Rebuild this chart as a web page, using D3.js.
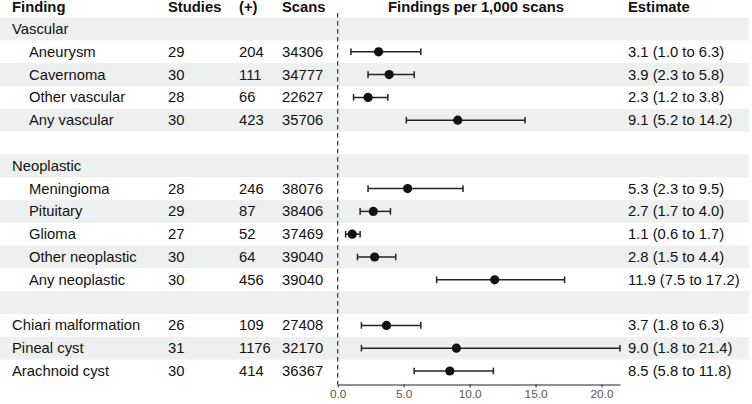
<!DOCTYPE html>
<html><head><meta charset="utf-8">
<script src="https://cdn.jsdelivr.net/npm/d3@7"></script>
<style>
html,body{margin:0;padding:0;background:#fff;}
svg{display:block;font-family:"Liberation Sans",Arial,Helvetica,sans-serif;}
</style></head>
<body>
<svg id="chart" width="752" height="404"></svg>
<script>
const findings = ["Vascular","Aneurysm","Cavernoma","Other vascular","Any vascular","","Neoplastic","Meningioma","Pituitary","Glioma","Other neoplastic","Any neoplastic","","Chiari malformation","Pineal cyst","Arachnoid cyst"];
const indented = [false,true,true,true,true,false,false,true,true,true,true,true,false,false,false,false];
const studies =   [null,29,30,28,30,null,null,28,29,27,30,30,null,26,31,30];
const positives = [null,204,111,66,423,null,null,246,87,52,64,456,null,109,1176,414];
const scans =     [null,34306,34777,22627,35706,null,null,38076,38406,37469,39040,39040,null,27408,32170,36367];
const estimate =  [null,3.1,3.9,2.3,9.1,null,null,5.3,2.7,1.1,2.8,11.9,null,3.7,9.0,8.5];
const lower =     [null,1.0,2.3,1.2,5.2,null,null,2.3,1.7,0.6,1.5,7.5,null,1.8,1.8,5.8];
const upper =     [null,6.3,5.8,3.8,14.2,null,null,9.5,4.0,1.7,4.4,17.2,null,6.3,21.4,11.8];
const tickValues = [0,5,10,15,20];
const headers = ["Finding","Studies","(+)","Scans","Findings per 1,000 scans","Estimate"];

const svg = d3.select("#chart");
const idx = d3.range(findings.length);
const y = d3.scaleBand().domain(idx).range([17.6, 382.4]).paddingInner(0).paddingOuter(0);
const x = d3.scaleLinear().domain([0, 21.4]).range([337.7, 620]);
const fs = 14.8;
const txt = "#111";

// bands
svg.append("g").selectAll("rect").data(idx.filter(i => i % 2 === 0)).join("rect")
  .attr("x", 0).attr("width", 749)
  .attr("y", i => y(i)).attr("height", y.bandwidth())
  .attr("fill", "#eef0f0");

// headers
const hx = [12, 168, 239, 282, 476, 628];
svg.append("g").selectAll("text").data(headers).join("text")
  .attr("x", (d, i) => hx[i]).attr("y", 12)
  .attr("text-anchor", (d, i) => i === 4 ? "middle" : "start")
  .attr("font-weight", "bold").attr("font-size", fs).attr("fill", txt)
  .text(d => d);

const cy = i => y(i) + y.bandwidth() / 2;
const rows = svg.append("g").selectAll("g").data(idx).join("g");
rows.append("text").attr("x", i => indented[i] ? 29 : 12).attr("y", i => cy(i) + 5)
  .attr("font-size", fs).attr("fill", txt).text(i => findings[i]);
const cols = [[studies,168],[positives,239],[scans,282]];
cols.forEach(([arr, cx]) => {
  rows.filter(i => arr[i] != null).append("text").attr("x", cx).attr("y", i => cy(i) + 5)
    .attr("font-size", fs).attr("fill", txt).text(i => arr[i]);
});
rows.filter(i => estimate[i] != null).append("text").attr("x", 628).attr("y", i => cy(i) + 5)
  .attr("font-size", fs).attr("fill", txt)
  .text(i => `${estimate[i].toFixed(1)} (${lower[i].toFixed(1)} to ${upper[i].toFixed(1)})`);

// axis
const ax = svg.append("g").attr("transform", "translate(0,384.5)")
  .call(d3.axisBottom(x).tickValues(tickValues).tickFormat(d3.format(".1f")).tickSize(3).tickPadding(2).tickSizeOuter(0));
ax.select(".domain").attr("stroke", "#222").attr("stroke-width", 1.1);
ax.selectAll(".tick line").attr("stroke", "#222");
ax.selectAll(".tick text").attr("font-size", 11.8).attr("fill", "#555").attr("font-family", "'Liberation Sans',Arial,sans-serif");

// dashed zero line
svg.append("line").attr("x1", x(0)).attr("x2", x(0)).attr("y1", 13).attr("y2", 384.5)
  .attr("stroke", "#222").attr("stroke-width", 1.1).attr("stroke-dasharray", "4.5,3.5");

// error bars
const est = rows.filter(i => estimate[i] != null);
est.append("line").attr("x1", i => x(lower[i])).attr("x2", i => x(upper[i]))
  .attr("y1", cy).attr("y2", cy).attr("stroke", "#222").attr("stroke-width", 1.5);
est.append("line").attr("x1", i => x(lower[i])).attr("x2", i => x(lower[i]))
  .attr("y1", i => cy(i) - 3.3).attr("y2", i => cy(i) + 3.3).attr("stroke", "#222").attr("stroke-width", 1.5);
est.append("line").attr("x1", i => x(upper[i])).attr("x2", i => x(upper[i]))
  .attr("y1", i => cy(i) - 3.3).attr("y2", i => cy(i) + 3.3).attr("stroke", "#222").attr("stroke-width", 1.5);
est.append("circle").attr("cx", i => x(estimate[i])).attr("cy", cy).attr("r", 4.6).attr("fill", "#111");
</script>
</body></html>
